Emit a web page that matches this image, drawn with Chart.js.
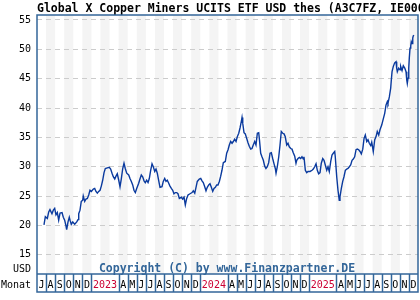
<!DOCTYPE html>
<html>
<head>
<meta charset="utf-8">
<script src="https://cdn.jsdelivr.net/npm/chart.js@4.4.1/dist/chart.umd.min.js"></script>
<style>
html, body { margin: 0; padding: 0; background: #fff; }
#wrap { width: 420px; height: 300px; position: relative; }
</style>
</head>
<body>
<div id="wrap"><canvas id="chart"></canvas></div>
<script>
// Chart data
var titleText = 'Global X Copper Miners UCITS ETF USD thes (A3C7FZ, IE0003Z9E2Y3)';
var copyrightText = 'Copyright (C) by www.Finanzpartner.DE';
var unitLabel = 'USD';
var axisLabel = 'Monat';

// Jul 2022 .. Dec 2025, one entry per month
var monthLetters = ['J','A','S','O','N','D',
  'J','F','M','A','M','J','J','A','S','O','N','D',
  'J','F','M','A','M','J','J','A','S','O','N','D',
  'J','F','M','A','M','J','J','A','S','O','N','D'];
var yearLabels = ['2023', '2024', '2025'];
var yTicks = [15, 20, 25, 30, 35, 40, 45, 50, 55];

// position in months since 1 Jul 2022
var monthPos = [
  0.77, 0.92, 1.14, 1.29, 1.43, 1.65, 1.80, 1.95, 2.09, 2.24,
  2.39, 2.54, 2.76, 2.90, 3.05, 3.20, 3.27, 3.42, 3.56, 3.64,
  3.78, 3.94, 4.16, 4.38, 4.52, 4.60, 4.74, 4.88, 5.04, 5.10,
  5.26, 5.40, 5.55, 5.70, 5.84, 5.99, 6.21, 6.36, 6.50, 6.65,
  6.80, 6.95, 7.09, 7.24, 7.39, 7.53, 7.75, 7.97, 8.12, 8.27,
  8.41, 8.57, 8.71, 8.85, 9.01, 9.15, 9.29, 9.45, 9.59, 9.73,
  9.89, 10.11, 10.25, 10.40, 10.55, 10.69, 10.84, 10.99, 11.21, 11.35,
  11.50, 11.65, 11.80, 11.94, 12.09, 12.24, 12.38, 12.53, 12.68, 12.82,
  12.98, 13.12, 13.26, 13.42, 13.56, 13.78, 13.92, 14.08, 14.22, 14.36,
  14.52, 14.66, 14.81, 14.96, 15.10, 15.25, 15.40, 15.54, 15.69, 15.91,
  16.06, 16.21, 16.35, 16.50, 16.65, 16.87, 17.09, 17.23, 17.39, 17.53,
  17.67, 17.89, 18.05, 18.19, 18.33, 18.49, 18.63, 18.77, 18.93, 19.07,
  19.22, 19.37, 19.51, 19.66, 19.81, 19.95, 20.10, 20.25, 20.39, 20.54,
  20.76, 20.91, 21.06, 21.20, 21.35, 21.50, 21.64, 21.79, 21.94, 22.08,
  22.24, 22.38, 22.52, 22.60, 22.68, 22.82, 22.96, 23.12, 23.26, 23.40,
  23.56, 23.70, 23.84, 24.00, 24.14, 24.29, 24.44, 24.51, 24.66, 24.80,
  24.95, 25.10, 25.24, 25.39, 25.54, 25.69, 25.83, 25.98, 26.13, 26.27,
  26.35, 26.49, 26.65, 26.79, 26.93, 27.09, 27.23, 27.37, 27.53, 27.67,
  27.81, 27.97, 28.11, 28.25, 28.41, 28.55, 28.63, 28.77, 28.92, 29.07,
  29.21, 29.36, 29.43, 29.58, 29.73, 29.88, 30.10, 30.32, 30.46, 30.61,
  30.76, 30.90, 31.05, 31.20, 31.34, 31.50, 31.64, 31.78, 31.94, 32.08,
  32.22, 32.38, 32.52, 32.66, 32.82, 32.88, 33.04, 33.18, 33.32, 33.40,
  33.55, 33.70, 33.84, 33.99, 34.14, 34.28, 34.43, 34.58, 34.73, 34.87,
  35.02, 35.17, 35.31, 35.46, 35.61, 35.75, 35.91, 36.05, 36.19, 36.35,
  36.49, 36.63, 36.79, 36.90, 37.07, 37.23, 37.37, 37.51, 37.67, 37.81,
  38.00, 38.18, 38.33, 38.47, 38.62, 38.69, 38.84, 38.99, 39.06, 39.14,
  39.28, 39.43, 39.58, 39.65, 39.72, 39.87, 40.02, 40.09, 40.24, 40.38,
  40.54, 40.68, 40.76, 40.82, 40.90, 40.98, 41.04, 41.12, 41.20, 41.26,
  41.34, 41.42, 41.48, 41.56
];

// fund price in USD
var prices = [
  20.1, 21.5, 21.2, 22.3, 22.7, 22.0, 22.6, 22.9, 21.8, 22.2,
  20.9, 22.1, 22.2, 21.4, 20.9, 19.9, 19.3, 20.6, 21.4, 20.9,
  20.2, 20.6, 20.2, 20.6, 21.0, 22.0, 22.6, 24.1, 24.3, 25.0,
  24.1, 24.5, 24.6, 25.2, 26.0, 25.8, 26.2, 26.3, 25.8, 25.5,
  25.8, 26.0, 26.7, 27.7, 29.0, 29.7, 29.8, 29.9, 29.6, 28.9,
  28.3, 27.9, 28.4, 28.8, 27.7, 26.6, 27.9, 29.7, 30.6, 29.7,
  28.9, 28.6, 28.0, 27.5, 26.9, 26.0, 25.6, 26.3, 27.2, 27.9,
  28.6, 28.3, 27.6, 27.3, 27.7, 27.3, 28.0, 29.4, 30.5, 30.0,
  29.2, 29.6, 28.9, 27.6, 26.5, 26.6, 27.5, 28.0, 27.5, 27.7,
  27.2, 26.7, 26.3, 26.0, 25.4, 25.6, 25.6, 25.4, 24.6, 24.8,
  24.5, 24.8, 23.5, 24.6, 25.2, 25.4, 25.6, 25.9, 25.5, 26.5,
  27.5, 27.9, 28.0, 27.6, 27.3, 26.6, 25.9, 26.5, 26.9, 27.1,
  26.5, 25.8, 26.3, 26.5, 26.9, 26.9, 27.5, 28.4, 29.4, 30.7,
  30.9, 32.3, 32.9, 33.7, 34.3, 34.0, 34.3, 34.7, 34.3, 35.1,
  35.7, 36.6, 37.7, 38.4, 37.4, 35.8, 35.6, 34.8, 34.1, 33.5,
  33.0, 33.1, 33.7, 34.3, 33.7, 35.7, 35.8, 34.8, 32.3, 31.7,
  31.1, 30.1, 29.7, 30.0, 30.7, 32.3, 32.4, 31.4, 30.5, 29.7,
  28.9, 30.0, 31.7, 33.7, 36.0, 35.7, 35.6, 35.1, 33.7, 34.0,
  33.4, 33.1, 33.0, 32.4, 31.8, 30.6, 31.1, 31.4, 31.6, 31.4,
  31.7, 31.3, 31.7, 29.4, 29.0, 29.2, 29.2, 29.4, 29.6, 30.0,
  30.5, 29.4, 28.8, 29.0, 30.6, 31.4, 31.1, 30.3, 29.4, 30.0,
  29.2, 30.9, 32.0, 32.3, 32.6, 31.7, 28.3, 26.0, 24.3, 24.9,
  26.3, 27.5, 28.3, 29.4, 29.6, 29.7, 30.0, 30.3, 31.1, 31.3,
  31.7, 32.9, 33.0, 32.9, 32.6, 32.2, 33.0, 34.8, 35.4, 34.3,
  34.6, 34.0, 33.6, 34.2, 32.6, 34.6, 35.1, 36.0, 35.4, 36.3,
  37.1, 38.2, 39.1, 40.5, 41.1, 40.8, 41.9, 43.4, 44.8, 46.2,
  47.1, 47.7, 47.9, 46.8, 46.2, 46.8, 46.5, 47.1, 46.4, 47.2,
  46.8, 46.2, 44.8, 44.2, 45.1, 46.8, 48.5, 50.2, 50.6, 51.3,
  51.0, 51.9, 52.3, 52.4
];

var frameColor = '#336699';
var monoFont = '"DejaVu Sans Mono", "Liberation Mono", monospace';

var points = [];
for (var i = 0; i < prices.length; i++) {
  points.push({ x: monthPos[i], y: prices[i] });
}

// stripes, copyright, frame, month row and titles
var finanzPlugin = {
  id: 'finanz',
  beforeDraw: function (chart) {
    var ctx = chart.ctx, area = chart.chartArea, xs = chart.scales.x;
    ctx.save();
    ctx.fillStyle = '#f4f4f4';
    for (var i = 1; i < monthLetters.length; i += 2) {
      var a = xs.getPixelForValue(i), b = xs.getPixelForValue(i + 1);
      ctx.fillRect(a, area.top, b - a, area.bottom - area.top);
    }
    ctx.restore();
  },
  beforeDatasetsDraw: function (chart) {
    var ctx = chart.ctx, area = chart.chartArea;
    ctx.save();
    ctx.font = 'bold 11.5px ' + monoFont;
    ctx.fillStyle = frameColor;
    ctx.textAlign = 'center';
    ctx.textBaseline = 'alphabetic';
    ctx.fillText(copyrightText, 227, area.bottom - 2.5);
    ctx.restore();
  },
  afterDraw: function (chart) {
    var ctx = chart.ctx, area = chart.chartArea, xs = chart.scales.x;
    var rowTop = area.bottom, rowBottom = area.bottom + 18;
    ctx.save();

    // title
    ctx.font = 'bold 11.5px ' + monoFont;
    ctx.fillStyle = '#000';
    ctx.textAlign = 'left';
    ctx.textBaseline = 'alphabetic';
    ctx.fillText(titleText, area.left, 12);

    // unit + axis label
    ctx.font = '10px ' + monoFont;
    ctx.textAlign = 'right';
    ctx.fillText(unitLabel, area.left - 6, area.bottom - 2.5);
    ctx.fillText(axisLabel, area.left - 6, rowBottom - 4);

    // month row
    ctx.strokeStyle = frameColor;
    ctx.lineWidth = 1.5;
    ctx.textAlign = 'center';
    var yearIdx = 0;
    var i = 0;
    while (i < monthLetters.length) {
      var span = 1, text = monthLetters[i], color = '#000';
      if (monthLetters[i] === 'J' && monthLetters[i + 1] === 'F') {
        span = 3;
        text = yearLabels[yearIdx++];
        color = '#cc0033';
      }
      var a = xs.getPixelForValue(i), b = xs.getPixelForValue(i + span);
      ctx.fillStyle = color;
      ctx.fillText(text, (a + b) / 2, rowBottom - 4);
      if (i > 0) {
        ctx.beginPath();
        ctx.moveTo(Math.round(a) + 0.5, rowTop);
        ctx.lineTo(Math.round(a) + 0.5, rowBottom);
        ctx.stroke();
      }
      i += span;
    }

    // frame
    ctx.beginPath();
    ctx.rect(area.left, area.top, area.right - area.left, rowBottom - area.top);
    ctx.moveTo(area.left, rowTop);
    ctx.lineTo(area.right, rowTop);
    ctx.stroke();
    ctx.restore();
  }
};

new Chart(document.getElementById('chart'), {
  type: 'line',
  data: {
    datasets: [{
      data: points,
      borderColor: '#0a3a9e',
      borderWidth: 1.4,
      pointRadius: 0,
      tension: 0,
      fill: false
    }]
  },
  options: {
    responsive: true,
    maintainAspectRatio: false,
    animation: false,
    layout: { padding: { top: 15, right: 2, bottom: 26, left: 0 } },
    plugins: { legend: { display: false }, tooltip: { enabled: false } },
    scales: {
      x: {
        type: 'linear',
        min: 0,
        max: monthLetters.length,
        display: false
      },
      y: {
        min: 11.73,
        max: 55.85,
        afterFit: function (scale) { scale.width = 37; },
        afterBuildTicks: function (scale) {
          scale.ticks = yTicks.map(function (v) { return { value: v }; });
        },
        grid: { color: '#cccccc', lineWidth: 1, drawTicks: false },
        border: { display: false, dash: [5, 4] },
        ticks: {
          padding: 6,
          color: '#000',
          font: { family: monoFont, size: 10 }
        }
      }
    }
  },
  plugins: [finanzPlugin]
});
</script>
</body>
</html>
